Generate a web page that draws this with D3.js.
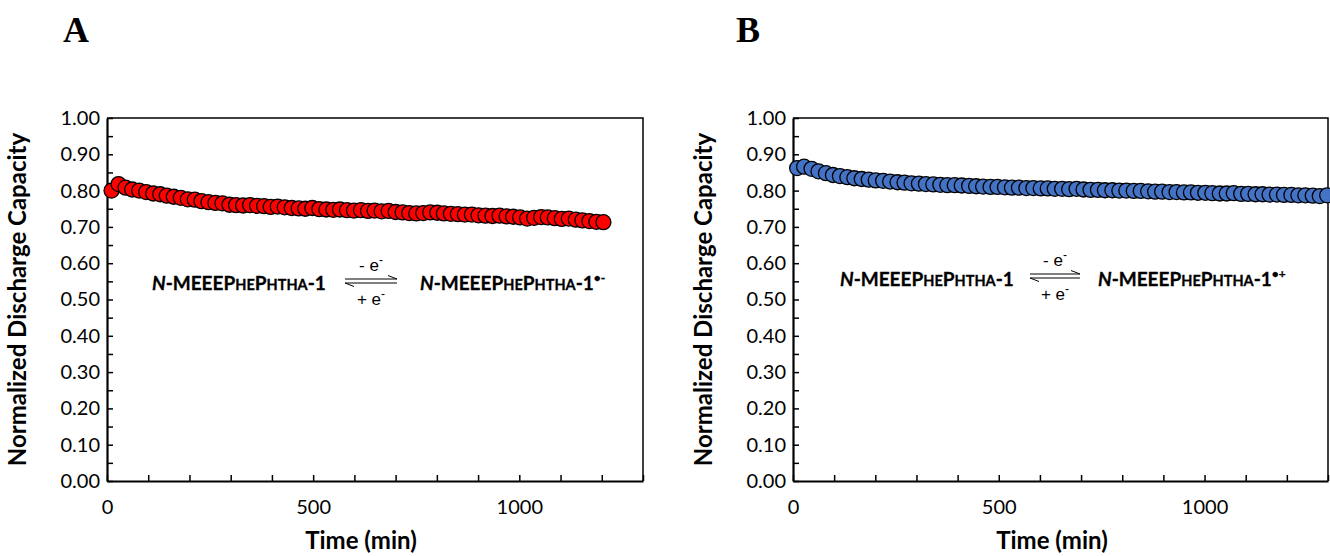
<!DOCTYPE html>
<html>
<head>
<meta charset="utf-8">
<script src="https://cdn.jsdelivr.net/npm/d3@7"></script>
<style>
  body { margin: 0; background: #fff; }
  svg { display: block; }
  .tick text { font-family: Lato, "Open Sans", sans-serif; font-size: 20px; fill: #000; }
</style>
</head>
<body>
<div id="vis"></div>
<script>
// Panel A data (time in min, normalized discharge capacity)
const TIME_A = [11, 28, 45, 61, 78, 95, 112, 129, 145, 162, 179, 196, 213, 229, 246, 263, 280, 297, 313, 330,
  347, 364, 381, 397, 414, 431, 448, 465, 481, 498, 515, 532, 549, 565, 582, 599, 616, 633, 649, 666,
  683, 700, 717, 733, 750, 767, 784, 801, 817, 834, 851, 868, 885, 901, 918, 935, 952, 969, 985, 1002,
  1019, 1036, 1053, 1069, 1086, 1103, 1120, 1137, 1153, 1170, 1187, 1204];
const CAP_A = [0.800, 0.818, 0.808, 0.803, 0.800, 0.796, 0.792, 0.790, 0.786, 0.783, 0.780, 0.776, 0.775, 0.771, 0.768, 0.766, 0.765, 0.761, 0.760, 0.759,
  0.760, 0.758, 0.757, 0.755, 0.756, 0.754, 0.752, 0.751, 0.750, 0.752, 0.749, 0.748, 0.747, 0.748, 0.746, 0.745, 0.746, 0.744, 0.745, 0.743,
  0.744, 0.741, 0.740, 0.738, 0.737, 0.738, 0.740, 0.739, 0.737, 0.736, 0.735, 0.734, 0.734, 0.732, 0.731, 0.730, 0.731, 0.729, 0.728, 0.726,
  0.723, 0.725, 0.727, 0.726, 0.724, 0.722, 0.723, 0.720, 0.718, 0.716, 0.714, 0.713];

// Panel B data
const TIME_B = [10, 27, 45, 62, 80, 97, 114, 132, 149, 167, 184, 201, 219, 236, 254, 271, 288, 306, 323, 341,
  358, 375, 393, 410, 428, 445, 462, 480, 497, 515, 532, 549, 567, 584, 602, 619, 636, 654, 671, 689,
  706, 723, 741, 758, 776, 793, 810, 828, 845, 863, 880, 897, 915, 932, 950, 967, 984, 1002, 1019, 1037,
  1054, 1071, 1089, 1106, 1124, 1141, 1158, 1176, 1193, 1211, 1228, 1245, 1263, 1280, 1298];
const CAP_B = [0.862, 0.866, 0.860, 0.853, 0.848, 0.843, 0.840, 0.837, 0.834, 0.832, 0.830, 0.828, 0.827, 0.825, 0.823, 0.822, 0.820, 0.819, 0.818, 0.817,
  0.816, 0.815, 0.815, 0.814, 0.813, 0.812, 0.811, 0.810, 0.810, 0.809, 0.808, 0.808, 0.807, 0.807, 0.806, 0.806, 0.805, 0.805, 0.804, 0.805,
  0.803, 0.802, 0.802, 0.801, 0.801, 0.800, 0.800, 0.799, 0.799, 0.798, 0.797, 0.797, 0.796, 0.796, 0.795, 0.795, 0.794, 0.794, 0.793, 0.792,
  0.792, 0.793, 0.791, 0.791, 0.790, 0.790, 0.789, 0.789, 0.788, 0.788, 0.787, 0.787, 0.786, 0.785, 0.787];

// ticks
const X_LABEL_TICKS = [0, 500, 1000];
const X_MINOR_TICKS = [0, 100, 200, 300, 400, 500, 600, 700, 800, 900, 1000, 1100, 1200, 1300];
const Y_LABEL_TICKS = [0, 0.1, 0.2, 0.3, 0.4, 0.5, 0.6, 0.7, 0.8, 0.9, 1.0];
const Y_MINOR_TICKS = [0, 0.05, 0.1, 0.15, 0.2, 0.25, 0.3, 0.35, 0.4, 0.45, 0.5, 0.55, 0.6, 0.65, 0.7, 0.75, 0.8, 0.85, 0.9, 0.95, 1.0];

const FRAME_WIDTH = 1330;
const FRAME_HEIGHT = 556;
const FONT = "Lato, 'Open Sans', sans-serif";

const FRAME = d3.select("#vis")
  .append("svg")
    .attr("width", FRAME_WIDTH)
    .attr("height", FRAME_HEIGHT);

function drawPanel(p) {
  const X_SCALE = d3.scaleLinear().domain([0, 1300]).range([p.left, p.right]);
  const Y_SCALE = d3.scaleLinear().domain([0, 1]).range([p.bottom, p.top]);

  // panel letter
  FRAME.append("text")
    .attr("x", p.letterX).attr("y", 42)
    .attr("text-anchor", "middle")
    .attr("font-family", "'Liberation Serif', 'Times New Roman', serif")
    .attr("font-weight", "bold")
    .attr("font-size", 36)
    .text(p.letter);

  // top / right border
  FRAME.append("path")
    .attr("d", `M${p.left},${p.top}H${p.right}V${p.bottom}`)
    .attr("fill", "none").attr("stroke", "#000").attr("stroke-width", 1.5);

  // minor ticks (no labels)
  FRAME.append("g")
    .attr("transform", `translate(0,${p.bottom})`)
    .call(d3.axisBottom(X_SCALE).tickValues(X_MINOR_TICKS).tickSizeInner(-6).tickSizeOuter(0).tickFormat(""))
    .call(g => g.select(".domain").remove())
    .call(g => g.selectAll("line").attr("stroke-width", 1.5));
  FRAME.append("g")
    .attr("transform", `translate(${p.left},0)`)
    .call(d3.axisLeft(Y_SCALE).tickValues(Y_MINOR_TICKS).tickSizeInner(-6).tickSizeOuter(0).tickFormat(""))
    .call(g => g.select(".domain").remove())
    .call(g => g.selectAll("line").attr("stroke-width", 1.5));

  // labelled axes
  FRAME.append("g")
    .attr("transform", `translate(0,${p.bottom})`)
    .call(d3.axisBottom(X_SCALE).tickValues(X_LABEL_TICKS).tickSize(0).tickPadding(19).tickFormat(d3.format("d")))
    .call(g => g.select(".domain").attr("stroke-width", 2.2));
  FRAME.append("g")
    .attr("transform", `translate(${p.left},0)`)
    .call(d3.axisLeft(Y_SCALE).tickValues(Y_LABEL_TICKS).tickSize(0).tickPadding(7).tickFormat(d3.format(".2f")))
    .call(g => g.select(".domain").attr("stroke-width", 2.2));

  // axis titles
  FRAME.append("text")
    .attr("x", p.xTitleX).attr("y", 549)
    .attr("text-anchor", "middle")
    .attr("font-family", FONT).attr("font-weight", "bold").attr("font-size", 24)
    .text("Time (min)");
  FRAME.append("text")
    .attr("transform", `translate(${p.yTitleX},${(p.top + p.bottom) / 2}) rotate(-90)`)
    .attr("text-anchor", "middle")
    .attr("font-family", FONT).attr("font-weight", "bold").attr("font-size", 24)
    .text("Normalized Discharge Capacity");

  // points
  FRAME.append("g").selectAll("circle")
    .data(p.time.map((t, i) => ({ t: t, v: p.cap[i] })))
    .enter()
    .append("circle")
      .attr("cx", d => X_SCALE(d.t))
      .attr("cy", d => Y_SCALE(d.v))
      .attr("r", 7.5)
      .attr("fill", p.color)
      .attr("stroke", "#000")
      .attr("stroke-width", 1.3);

  // reaction scheme
  function compound(x, y, sup) {
    const t = FRAME.append("text")
      .attr("x", x).attr("y", y)
      .attr("font-family", FONT).attr("font-weight", "bold").attr("font-size", 19)
      .attr("stroke", "#000").attr("stroke-width", 0.3);
    t.append("tspan").attr("font-style", "italic").text("N");
    t.append("tspan").text("-MEEEP");
    t.append("tspan").attr("font-size", 14.5).text("HE");
    t.append("tspan").text("P");
    t.append("tspan").attr("font-size", 14.5).text("HTHA");
    t.append("tspan").text("-1");
    if (sup) t.append("tspan").attr("font-size", 12).attr("dy", -8).text(sup);
  }
  compound(p.leftTextX, p.eqY + 7, null);
  compound(p.rightTextX, p.eqY + 7, p.sup);

  const ax0 = p.arrowX0, ax1 = p.arrowX1, ay = p.arrowY;
  FRAME.append("path")
    .attr("d", `M${ax0},${ay - 2}H${ax1}l-9,-3.5 M${ax1},${ay + 2}H${ax0}l9,3.5`)
    .attr("fill", "none").attr("stroke", "#000").attr("stroke-width", 1);
  const mid = (ax0 + ax1) / 2;
  [["- e", ay - 10], ["+ e", ay + 24]].forEach(([s, y]) => {
    const t = FRAME.append("text")
      .attr("x", mid).attr("y", y)
      .attr("text-anchor", "middle")
      .attr("font-family", "'Liberation Sans', Arial, sans-serif").attr("font-size", 17);
    t.append("tspan").text(s);
    t.append("tspan").attr("dy", -7).attr("font-size", 12).text("-");
  });
}

drawPanel({
  letter: "A", letterX: 76,
  left: 107, right: 643, top: 118, bottom: 481,
  xTitleX: 361, yTitleX: 26,
  time: TIME_A, cap: CAP_A, color: "#ff0000",
  leftTextX: 152, rightTextX: 420, sup: "•-",
  arrowX0: 345, arrowX1: 397, arrowY: 281, eqY: 283
});

drawPanel({
  letter: "B", letterX: 748,
  left: 793, right: 1328, top: 118, bottom: 481,
  xTitleX: 1052, yTitleX: 712,
  time: TIME_B, cap: CAP_B, color: "#4472c4",
  leftTextX: 840, rightTextX: 1098, sup: "•+",
  arrowX0: 1030, arrowX1: 1080, arrowY: 276, eqY: 279
});
</script>
</body>
</html>
